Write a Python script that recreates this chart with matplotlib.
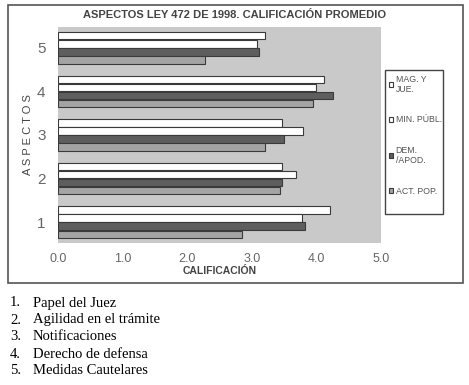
import numpy as np
import matplotlib.pyplot as plt
from matplotlib.patches import Rectangle

# aspects 1..5, values per respondent group
aspects = [1, 2, 3, 4, 5]
mag_jue = [4.21, 3.46, 3.47, 4.11, 3.21]
min_publ = [3.77, 3.68, 3.79, 3.99, 3.08]
dem_apod = [3.83, 3.46, 3.50, 4.26, 3.11]
act_pop = [2.85, 3.43, 3.21, 3.94, 2.28]
series = ["MAG. Y\nJUE.", "MIN. PÚBL.", "DEM.\n/APOD.", "ACT. POP."]
notes = ["Papel del Juez", "Agilidad en el trámite", "Notificaciones",
         "Derecho de defensa", "Medidas Cautelares"]

colors = ["white", "white", "#5e5e5e", "#a4a4a4"]

W, H = 469, 385
fig = plt.figure(figsize=(W / 100, H / 100), dpi=100)
ax = fig.add_axes([58 / W, 1 - 243 / H, 323 / W, 216 / H])
ax.set_facecolor("#c9c9c9")

y = np.array(aspects, dtype=float)
h = 0.185
offsets = [1.5 * h, 0.5 * h, -0.5 * h, -1.5 * h]
for vals, off, c, lab in zip([mag_jue, min_publ, dem_apod, act_pop], offsets, colors, series):
    ax.barh(y + off, vals, height=h * 0.9, color=c, edgecolor="#3a3a3a",
            linewidth=0.8, label=lab)

ax.set_xlim(0, 5)
ax.set_ylim(0.52, 5.48)
ax.set_xticks([0, 1, 2, 3, 4, 5])
ax.set_xticklabels(["%.1f" % v for v in [0, 1, 2, 3, 4, 5]])
ax.set_yticks(aspects)
ax.tick_params(length=0, colors="#666666", labelsize=9, pad=7)
ax.tick_params(axis="y", labelsize=11, pad=9)
for s in ax.spines.values():
    s.set_visible(False)
ax.set_xlabel("CALIFICACIÓN", fontsize=7.5, fontweight="bold", color="#444444",
              family="Liberation Sans", labelpad=1)
ax.set_ylabel("A S P E C T O S", fontsize=8, color="#444444", family="Liberation Sans",
              labelpad=3)
for t in ax.get_xticklabels() + ax.get_yticklabels():
    t.set_family("Liberation Sans")

fig.text(235 / W, 1 - 15 / H, "ASPECTOS LEY 472 DE 1998. CALIFICACIÓN PROMEDIO",
         ha="center", va="center", fontsize=8, fontweight="bold", color="#444444",
         family="Liberation Sans")

leg = fig.legend(loc="upper left", bbox_to_anchor=(386 / W, 1 - 72 / H),
                 handlelength=0.5, handleheight=0.5, handletextpad=0.3,
                 labelspacing=2.45, borderpad=0.3, borderaxespad=0,
                 frameon=False, prop={"family": "Liberation Sans", "size": 6.3})
for t in leg.get_texts():
    t.set_color("#555555")

# legend box (taller than its entries, as in the original)
fig.patches.append(Rectangle((385 / W, 1 - 214 / H), 58 / W, 144 / H, fill=False,
                             edgecolor="#444444", linewidth=1.0,
                             transform=fig.transFigure, figure=fig))
# outer frame of the chart
fig.patches.append(Rectangle((8 / W, 1 - 283 / H), 455 / W, 278 / H, fill=False,
                             edgecolor="#555555", linewidth=1.2,
                             transform=fig.transFigure, figure=fig))

for i, n in enumerate(notes):
    yy = 1 - (303 + i * 17) / H
    fig.text(10 / W, yy, "%d." % (i + 1), fontsize=10.5, family="Liberation Serif",
             va="center")
    fig.text(33 / W, yy, n, fontsize=10.5, family="Liberation Serif", va="center")

fig.savefig("out.png", dpi=100)
